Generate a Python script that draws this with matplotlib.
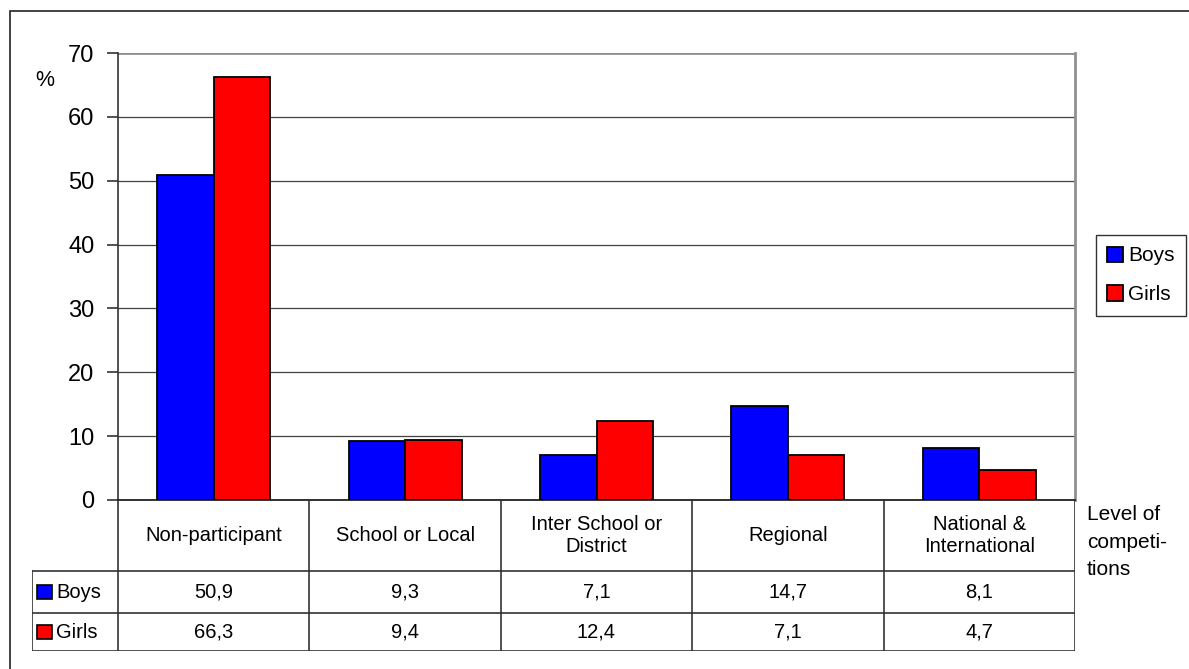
import numpy as np
import matplotlib.pyplot as plt
from matplotlib.patches import Rectangle

plt.rcParams['font.family'] = ['Liberation Sans', 'DejaVu Sans']

categories = ["Non-participant", "School or Local", "Inter School or\nDistrict",
              "Regional", "National &\nInternational"]
series_names = ["Boys", "Girls"]
boys = [50.9, 9.3, 7.1, 14.7, 8.1]
girls = [66.3, 9.4, 12.4, 7.1, 4.7]
colors = ["#0000ff", "#ff0000"]
yticks = [0, 10, 20, 30, 40, 50, 60, 70]

W, H = 1189, 669
fig = plt.figure(figsize=(W / 100, H / 100), dpi=100)


def px_axes(x0, y0, x1, y1):
    # pixel box (top-left origin) -> figure fraction
    return [x0 / W, 1 - y1 / H, (x1 - x0) / W, (y1 - y0) / H]


# outer frame (only top and left visible in the original)
fig.patches.append(Rectangle((10 / W, -0.1), 1.2, 1 - 11 / H + 0.1,
                             transform=fig.transFigure, fill=False,
                             edgecolor="#222222", lw=1.2))

# ---- bar chart ----
ax = fig.add_axes(px_axes(118, 53, 1075, 500))
x = np.arange(len(categories))
bw = 0.295
data = [boys, girls]
bars = []
for i, vals in enumerate(data):
    b = ax.bar(x + (i - 0.5) * bw, vals, width=bw, color=colors[i],
               edgecolor="black", lw=1.3, label=series_names[i], zorder=3)
    bars.append(b)

ax.set_xlim(-0.5, len(categories) - 0.5)
ax.set_ylim(0, 70)
ax.set_yticks(yticks)
ax.set_yticklabels([str(v) for v in yticks], fontsize=17)
ax.set_xticks([])
ax.yaxis.grid(True, color="#404040", lw=0.9)
ax.set_axisbelow(True)
ax.spines["top"].set_visible(False)
ax.spines["right"].set_color("#909090")
ax.spines["right"].set_linewidth(2)
ax.spines["left"].set_color("#333333")
ax.spines["left"].set_linewidth(1.2)
ax.spines["bottom"].set_color("#111111")
ax.spines["bottom"].set_linewidth(1.2)
ax.tick_params(axis="y", length=8, width=1.2, color="#333333", pad=9)
ax.axhline(70, color="#909090", lw=2, zorder=2)
fig.text(44.5 / W, 1 - 81 / H, "%", fontsize=15.5, ha="center", va="center")

# ---- data table ----
row_h = [71, 42, 38]  # header, Boys, Girls (px)
lab_w = (118 - 32) / 191.4
tax = fig.add_axes(px_axes(32, 500, 1075, 500 + sum(row_h)))
tax.set_xlim(-0.5 - lab_w, len(categories) - 0.5)
tax.set_ylim(sum(row_h), 0)
tax.axis("off")
lc = "#333333"
edges = np.cumsum([0] + row_h)
for k in range(len(categories) + 1):
    tax.plot([k - 0.5, k - 0.5], [0, edges[-1]], color=lc, lw=1.2)
tax.plot([-0.5 - lab_w] * 2, [edges[1], edges[-1]], color=lc, lw=1.2)
for e in edges[1:]:
    tax.plot([-0.5 - lab_w, len(categories) - 0.5], [e, e], color=lc, lw=1.2)

fs = 14.5
for k, c in enumerate(categories):
    tax.text(k, row_h[0] / 2, c, ha="center", va="center", fontsize=fs,
             linespacing=1.2)
for r, vals in enumerate(data):
    yc = (edges[r + 1] + edges[r + 2]) / 2
    for k, v in enumerate(vals):
        tax.text(k, yc, f"{v:.1f}".replace(".", ","), ha="center",
                 va="center", fontsize=fs)
    tax.add_patch(Rectangle((-0.5 - lab_w + 0.026, yc - 7), 0.078, 14,
                            facecolor=colors[r], edgecolor="black", lw=1.2))
    tax.text(-0.5 - lab_w + 0.125, yc, series_names[r], ha="left",
             va="center", fontsize=fs)

fig.text(1087 / W, 1 - 505 / H, "Level of\ncompeti-\ntions", ha="left",
         va="top", fontsize=15, linespacing=1.58)

# ---- legend ----
leg = fig.legend(handles=bars, labels=series_names, loc="upper left",
                 bbox_to_anchor=(1096 / W, 1 - 235 / H), fontsize=15,
                 frameon=True, fancybox=False, handlelength=0.75,
                 handleheight=0.75, handletextpad=0.25, labelspacing=0.95,
                 borderpad=0.55, borderaxespad=0)
leg.get_frame().set_edgecolor("black")
leg.get_frame().set_linewidth(1.0)

fig.savefig("out.png", dpi=100)
